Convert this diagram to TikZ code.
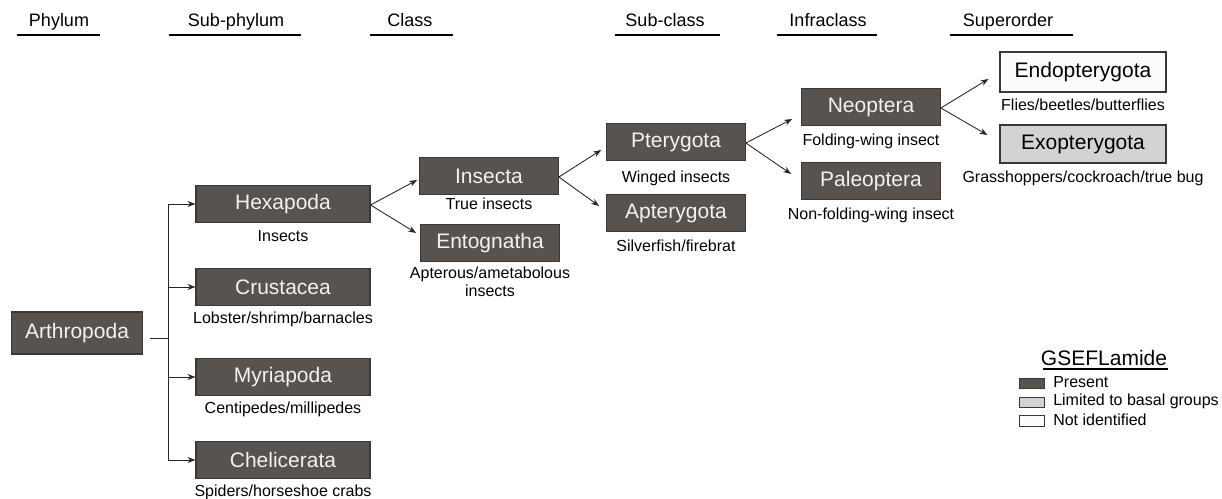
\documentclass[tikz,border=0pt]{standalone}
\usepackage{fontspec}
\setmainfont{Liberation Sans}
\usetikzlibrary{arrows.meta,calc}

\definecolor{present}{HTML}{58534F}
\definecolor{basal}{HTML}{D3D3D3}
\definecolor{absent}{HTML}{FBFCFD}
\definecolor{edge}{HTML}{3A3836}

\tikzset{
	taxon/.style={draw=edge, line width=0.8pt, fill=present, text=white!95!black,
		font=\fontsize{15.75}{18}\selectfont, inner sep=0pt,
		minimum width=104pt, minimum height=27.75pt},
	rank/.style={font=\fontsize{13.5}{16}\selectfont, anchor=base},
	note/.style={font=\fontsize{12}{13.5}\selectfont, inner sep=0pt, align=center},
	arr/.style={-{Stealth[length=6pt,width=4.5pt]}, line width=0.65pt, draw=black!85},
	swatch/.style={draw=edge, line width=0.6pt, minimum width=18.75pt, minimum height=8pt, inner sep=0pt}
}

\begin{document}
\begin{tikzpicture}[x=0.75pt, y=-0.75pt]
	\useasboundingbox ( 0, 0 ) rectangle ( 1222, 499 );

	% ранги
	\node [rank] (hPhyl) at (   59, 27 ) {Phylum};
	\node [rank] (hSubp) at (  236, 27 ) {Sub-phylum};
	\node [rank] (hClas) at (  410, 27 ) {Class};
	\node [rank] (hSubc) at (  665, 27 ) {Sub-class};
	\node [rank] (hInfr) at (  828, 27 ) {Infraclass};
	\node [rank] (hSupo) at ( 1008, 27 ) {Superorder};
	\draw [line width=0.8pt] (   17, 35 ) -- (  100, 35 );
	\draw [line width=0.8pt] (  169, 35 ) -- (  301, 35 );
	\draw [line width=0.8pt] (  370, 35 ) -- (  453, 35 );
	\draw [line width=0.8pt] (  615, 35 ) -- (  720, 35 );
	\draw [line width=0.8pt] (  777, 35 ) -- (  877, 35 );
	\draw [line width=0.8pt] (  950, 35 ) -- ( 1073, 35 );

	% таксоны
	\node [taxon, minimum width=98.25pt, minimum height=31.5pt] (arth) at (   77, 333 ) {Arthropoda};

	\node [taxon, minimum width=130.5pt, label={[note, label distance=5.25pt]below:Insects}] (hexa) at ( 283, 204 ) {Hexapoda};
	\node [taxon, minimum width=130.5pt, label={[note, label distance=4.5pt]below:Lobster/shrimp/barnacles}] (crus) at ( 283, 287 ) {Crustacea};
	\node [taxon, minimum width=130.5pt, label={[note, label distance=4.5pt]below:Centipedes/millipedes}] (myri) at ( 283, 377 ) {Myriapoda};
	\node [taxon, minimum width=130.5pt, label={[note, label distance=4.5pt]below:Spiders/horseshoe crabs}] (chel) at ( 283, 460 ) {Chelicerata};

	\node [taxon, label={[note, label distance=2.25pt]below:True insects}] (insc) at ( 489, 176 ) {Insecta};
	\node [taxon, label={[note, label distance=3.75pt]below:Apterous/ametabolous\\insects}] (ento) at ( 490, 243 ) {Entognatha};

	\node [taxon, label={[note, label distance=7pt]below:Winged insects}] (pter) at ( 676, 142 ) {Pterygota};
	\node [taxon, label={[note, label distance=6pt]below:Silverfish/firebrat}] (apte) at ( 676, 213 ) {Apterygota};

	\node [taxon, label={[note, label distance=6pt]below:Folding-wing insect}] (neop) at ( 871, 107 ) {Neoptera};
	\node [taxon, label={[note, label distance=6pt]below:Non-folding-wing insect}] (pale) at ( 871, 181 ) {Paleoptera};

	\node [taxon, fill=absent, text=black, minimum width=124.5pt, minimum height=30pt, label={[note, label distance=4.5pt]below:Flies/beetles/butterflies}] (endo) at ( 1083, 72 ) {Endopterygota};
	\node [taxon, fill=basal, text=black, minimum width=124.5pt, minimum height=28.5pt, label={[note, label distance=5.25pt]below:Grasshoppers/cockroach/true bug}] (exop) at ( 1083, 144 ) {Exopterygota};

	% ветвление от Arthropoda
	\coordinate (fork) at ( 168, 338 );
	\draw [line width=0.65pt, draw=black!85] ($(arth.east)+(7,5)$) -- (fork);
	\draw [line width=0.65pt, draw=black!85] (fork |- hexa.west) -- (fork |- chel.west);
	\foreach \c in {hexa, crus, myri, chel}
		\draw [arr] (fork |- \c.west) -- (\c.west);

	% расходящиеся стрелки
	\foreach \p/\c/\dx/\dy in {hexa/insc/2/4, hexa/ento/4/-10, insc/pter/5/8, insc/apte/7/-7,
		pter/neop/9/12, pter/pale/10/-7, neop/endo/11/7, neop/exop/12/-9}
		\draw [arr] ($(\p.east)+(0,1)$) -- ($(\c.west)+(-\dx,\dy)$);

	% легенда
	\node [font=\fontsize{15.75}{18}\selectfont, anchor=base] (legT) at ( 1104, 365 ) {GSEFLamide};
	\draw [line width=0.8pt] ( 1043, 369 ) -- ( 1168, 369 );
	\node [swatch, fill=present] (swP) at ( 1032, 383.5 ) {};
	\node [swatch, fill=basal]   (swL) at ( 1032, 402.5 ) {};
	\node [swatch, fill=absent]  (swN) at ( 1032, 421 ) {};
	\node [note, anchor=west] (legP) at ( 1053, 382 ) {Present};
	\node [note, anchor=west] (legL) at ( 1053, 401 ) {Limited to basal groups};
	\node [note, anchor=west] (legN) at ( 1053, 419.5 ) {Not identified};
\end{tikzpicture}
\end{document}
